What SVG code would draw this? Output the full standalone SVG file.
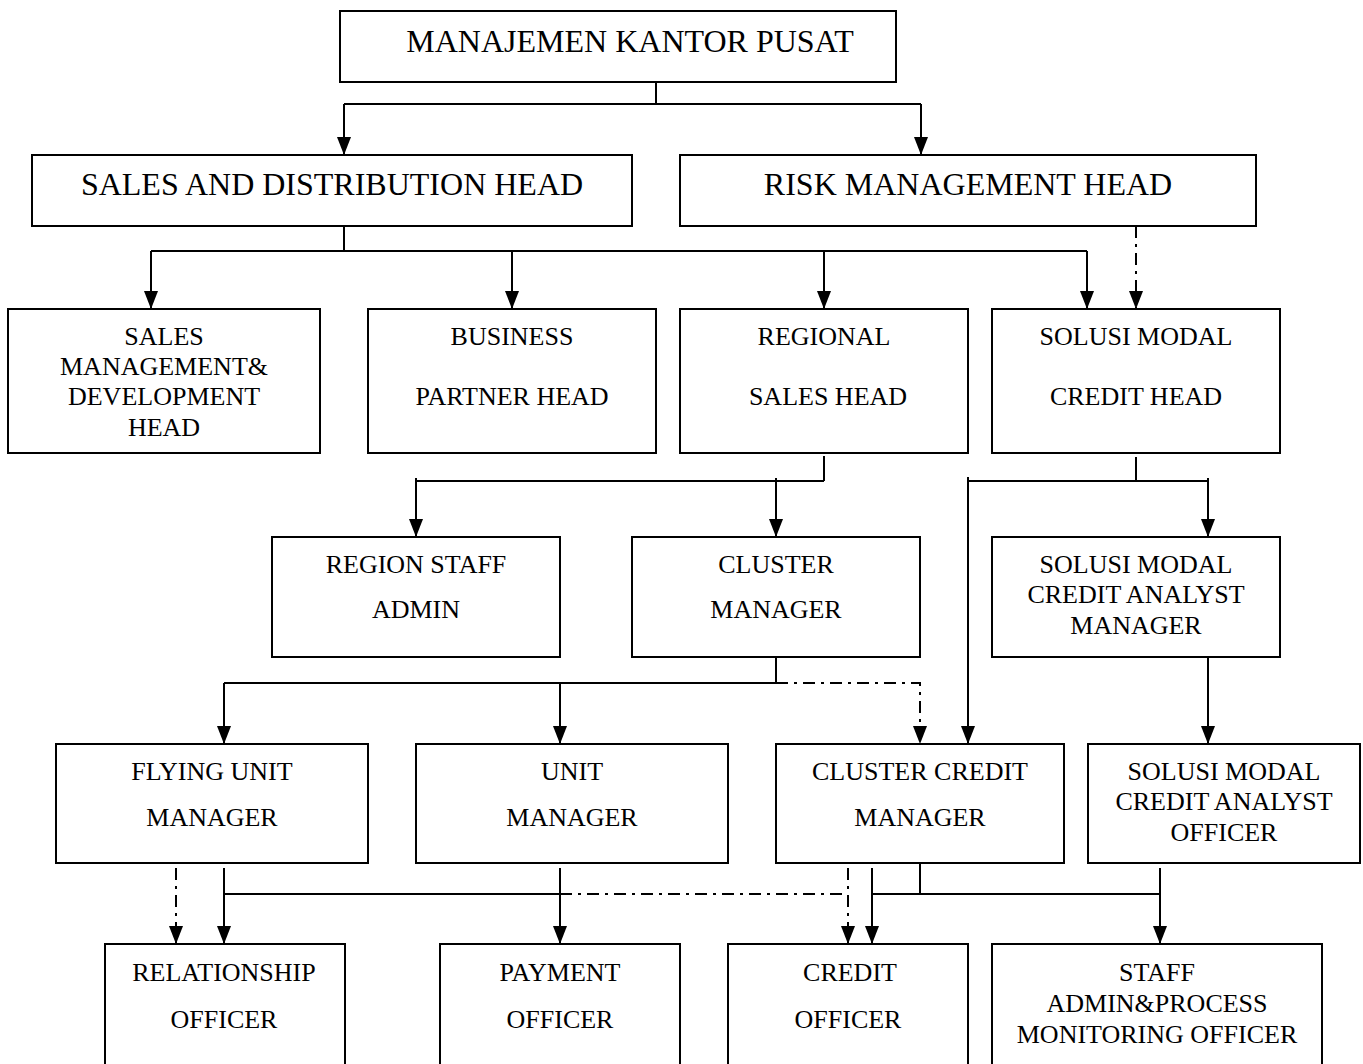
<svg xmlns="http://www.w3.org/2000/svg" width="1363" height="1064" viewBox="0 0 1363 1064">
<style>
.box{fill:#fff;stroke:#000;stroke-width:2}
.t{font-family:"Liberation Serif","Times New Roman",serif;font-size:26px;text-anchor:middle;fill:#000}
.t2{font-family:"Liberation Serif","Times New Roman",serif;font-size:32px;text-anchor:middle;fill:#000}
.c{fill:none;stroke:#000;stroke-width:2}
.d{fill:none;stroke:#000;stroke-width:2;stroke-dasharray:12 6 3 6}
</style>
<defs>
<marker id="ah" markerUnits="userSpaceOnUse" markerWidth="18" markerHeight="14" viewBox="0 0 18 14" refX="18" refY="7" orient="auto">
<path d="M0,0 L18,7 L0,14 z" fill="#000"/>
</marker>
</defs>
<rect width="1363" height="1064" fill="#fff"/>
<g id="connectors">
<path class="c" d="M656,82 V104 M344,104 H921"/>
<path class="c" d="M344,104 V155" marker-end="url(#ah)"/>
<path class="c" d="M921,104 V155" marker-end="url(#ah)"/>
<path class="c" d="M344,226 V251 M151,251 H1087"/>
<path class="c" d="M151,251 V309" marker-end="url(#ah)"/>
<path class="c" d="M512,251 V309" marker-end="url(#ah)"/>
<path class="c" d="M824,251 V309" marker-end="url(#ah)"/>
<path class="c" d="M1087,251 V309" marker-end="url(#ah)"/>
<path class="d" d="M1136,226 V309" marker-end="url(#ah)"/>
<path class="c" d="M824,456 V481 M416,481 H824"/>
<path class="c" d="M416,478 V537" marker-end="url(#ah)"/>
<path class="c" d="M776,478 V537" marker-end="url(#ah)"/>
<path class="c" d="M1136,457 V481 M968,481 H1208"/>
<path class="c" d="M1208,478 V537" marker-end="url(#ah)"/>
<path class="c" d="M968,477 V744" marker-end="url(#ah)"/>
<path class="c" d="M776,657 V683 M224,683 H776"/>
<path class="c" d="M224,683 V744" marker-end="url(#ah)"/>
<path class="c" d="M560,683 V744" marker-end="url(#ah)"/>
<path class="d" d="M776,683 H920 V744" marker-end="url(#ah)"/>
<path class="c" d="M1208,657 V744" marker-end="url(#ah)"/>
<path class="d" d="M176,868 V944" marker-end="url(#ah)"/>
<path class="c" d="M224,868 V944" marker-end="url(#ah)"/>
<path class="c" d="M224,894 H560"/>
<path class="c" d="M560,868 V944" marker-end="url(#ah)"/>
<path class="d" d="M560,894 H848"/>
<path class="d" d="M848,868 V944" marker-end="url(#ah)"/>
<path class="c" d="M872,868 V944" marker-end="url(#ah)"/>
<path class="c" d="M920,863 V894 M872,894 H1160"/>
<path class="c" d="M1160,868 V944" marker-end="url(#ah)"/>
</g>
<g id="n-top"><rect class="box" x="340" y="11" width="556" height="71"/><text class="t2" x="630" y="52">MANAJEMEN KANTOR PUSAT</text></g>
<g id="n-sales"><rect class="box" x="32" y="155" width="600" height="71"/><text class="t2" x="332" y="195">SALES AND DISTRIBUTION HEAD</text></g>
<g id="n-risk"><rect class="box" x="680" y="155" width="576" height="71"/><text class="t2" x="968" y="195">RISK MANAGEMENT HEAD</text></g>
<g id="n-smd"><rect class="box" x="8" y="309" width="312" height="144"/><text class="t" x="164" y="345">SALES</text><text class="t" x="164" y="375">MANAGEMENT&amp;</text><text class="t" x="164" y="405">DEVELOPMENT</text><text class="t" x="164" y="436">HEAD</text></g>
<g id="n-bp"><rect class="box" x="368" y="309" width="288" height="144"/><text class="t" x="512" y="345">BUSINESS</text><text class="t" x="512" y="405">PARTNER HEAD</text></g>
<g id="n-rs"><rect class="box" x="680" y="309" width="288" height="144"/><text class="t" x="824" y="345">REGIONAL</text><text class="t" x="828" y="405">SALES HEAD</text></g>
<g id="n-smch"><rect class="box" x="992" y="309" width="288" height="144"/><text class="t" x="1136" y="345">SOLUSI MODAL</text><text class="t" x="1136" y="405">CREDIT HEAD</text></g>
<g id="n-rsa"><rect class="box" x="272" y="537" width="288" height="120"/><text class="t" x="416" y="573">REGION STAFF</text><text class="t" x="416" y="618">ADMIN</text></g>
<g id="n-cm"><rect class="box" x="632" y="537" width="288" height="120"/><text class="t" x="776" y="573">CLUSTER</text><text class="t" x="776" y="618">MANAGER</text></g>
<g id="n-scam"><rect class="box" x="992" y="537" width="288" height="120"/><text class="t" x="1136" y="573">SOLUSI MODAL</text><text class="t" x="1136" y="603">CREDIT ANALYST</text><text class="t" x="1136" y="634">MANAGER</text></g>
<g id="n-fum"><rect class="box" x="56" y="744" width="312" height="119"/><text class="t" x="212" y="780">FLYING UNIT</text><text class="t" x="212" y="826">MANAGER</text></g>
<g id="n-um"><rect class="box" x="416" y="744" width="312" height="119"/><text class="t" x="572" y="780">UNIT</text><text class="t" x="572" y="826">MANAGER</text></g>
<g id="n-ccm"><rect class="box" x="776" y="744" width="288" height="119"/><text class="t" x="920" y="780">CLUSTER CREDIT</text><text class="t" x="920" y="826">MANAGER</text></g>
<g id="n-scao"><rect class="box" x="1088" y="744" width="272" height="119"/><text class="t" x="1224" y="780">SOLUSI MODAL</text><text class="t" x="1224" y="810">CREDIT ANALYST</text><text class="t" x="1224" y="841">OFFICER</text></g>
<g id="n-ro"><rect class="box" x="105" y="944" width="240" height="130"/><text class="t" x="224" y="981">RELATIONSHIP</text><text class="t" x="224" y="1028">OFFICER</text></g>
<g id="n-po"><rect class="box" x="440" y="944" width="240" height="130"/><text class="t" x="560" y="981">PAYMENT</text><text class="t" x="560" y="1028">OFFICER</text></g>
<g id="n-co"><rect class="box" x="728" y="944" width="240" height="130"/><text class="t" x="850" y="981">CREDIT</text><text class="t" x="848" y="1028">OFFICER</text></g>
<g id="n-sapmo"><rect class="box" x="992" y="944" width="330" height="130"/><text class="t" x="1157" y="981">STAFF</text><text class="t" x="1157" y="1012">ADMIN&amp;PROCESS</text><text class="t" x="1157" y="1043">MONITORING OFFICER</text></g>
</svg>
